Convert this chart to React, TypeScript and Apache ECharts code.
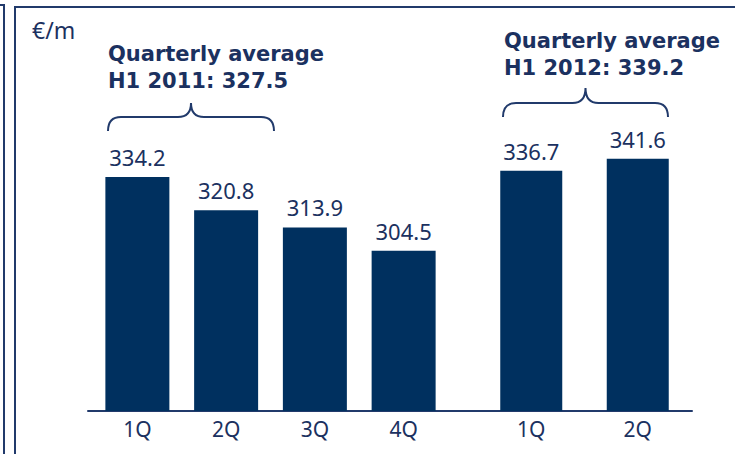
import React, { useEffect, useRef } from "react";
import * as echarts from "echarts";

const cats2011 = ["1Q", "2Q", "3Q", "4Q"];
const vals2011 = [334.2, 320.8, 313.9, 304.5];
const cats2012 = ["1Q", "2Q"];
const vals2012 = [336.7, 341.6];
const unitLabel = "€/m";
const avg2011 = ["Quarterly average", "H1 2011: 327.5"];
const avg2012 = ["Quarterly average", "H1 2012: 339.2"];

const NAVY = "#00305f";
const TEXT = "#1b3160";
const LINE = "#213a6b";
const FONT = "'Noto Sans', 'Open Sans', sans-serif";
const TITLE_FONT = "'DejaVu Sans', Verdana, sans-serif";

function bracePath(x0: number, x1: number, tipY: number, armY: number, endY: number) {
  const mid = (x0 + x1) / 2;
  const r = 13;
  return `M${x0},${endY} Q${x0},${armY} ${x0 + r},${armY} L${mid - r},${armY} Q${mid},${armY} ${mid},${tipY} Q${mid},${armY} ${mid + r},${armY} L${x1 - r},${armY} Q${x1},${armY} ${x1},${endY}`;
}

echarts.graphic.registerShape("brace1", echarts.graphic.extendPath(bracePath(108, 274, 103, 117, 131), {}));
echarts.graphic.registerShape("brace2", echarts.graphic.extendPath(bracePath(503, 668, 88, 103, 117), {}));

export default function App() {
  const ref = useRef<HTMLDivElement>(null);
  useEffect(() => {
    document.body.style.margin = "0";
    const chart = echarts.init(ref.current!, null, { renderer: "svg" });
    const labelCfg = {
      show: true,
      position: "top" as const,
      distance: 9,
      color: TEXT,
      fontSize: 22,
      fontFamily: FONT,
      formatter: (p: any) => p.value.toFixed(1),
    };
    const axisLabelCfg = { color: TEXT, fontSize: 21, fontFamily: FONT, margin: 7 };
    const yCfg = { type: "value" as const, min: 240, max: 360, show: false, splitLine: { show: false } };
    const txt = (x: number, y: number, text: string, font: string, lh: number) => ({
      type: "text",
      x,
      y,
      style: { text, fill: TEXT, font, lineHeight: lh, verticalAlign: "top", align: "left" },
    });
    chart.setOption({
      animation: false,
      backgroundColor: "#ffffff",
      grid: [
        { left: 93, right: 735 - 448, top: 113, bottom: 43 },
        { left: 478, right: 735 - 691, top: 113, bottom: 43 },
        { left: 88, right: 735 - 692, top: 113, bottom: 43 },
      ],
      xAxis: [
        { type: "category", gridIndex: 0, data: cats2011, axisLine: { show: false }, axisTick: { show: false }, axisLabel: axisLabelCfg },
        { type: "category", gridIndex: 1, data: cats2012, axisLine: { show: false }, axisTick: { show: false }, axisLabel: axisLabelCfg },
        { type: "category", gridIndex: 2, data: [""], axisLine: { show: true, lineStyle: { color: LINE, width: 2 } }, axisTick: { show: false }, axisLabel: { show: false } },
      ],
      yAxis: [
        { ...yCfg, gridIndex: 0 },
        { ...yCfg, gridIndex: 1 },
        { ...yCfg, gridIndex: 2 },
      ],
      series: [
        { type: "bar", xAxisIndex: 0, yAxisIndex: 0, data: vals2011, barWidth: 64, itemStyle: { color: NAVY }, label: labelCfg },
        { type: "bar", xAxisIndex: 1, yAxisIndex: 1, data: vals2012, barWidth: 62, itemStyle: { color: NAVY }, label: labelCfg },
      ],
      graphic: [
        { type: "polyline", shape: { points: [[0, 5], [4, 5], [4, 454]] }, style: { stroke: LINE, lineWidth: 2, fill: null } },
        { type: "polyline", shape: { points: [[15, 454], [15, 7], [735, 7]] }, style: { stroke: LINE, lineWidth: 2, fill: null } },
        txt(32, 18, unitLabel, `23px ${FONT}`, 23),
        txt(108, 40, avg2011.join("\n"), `bold 21px ${TITLE_FONT}`, 27),
        txt(504, 27, avg2012.join("\n"), `bold 21px ${TITLE_FONT}`, 27),
        { type: "brace1", style: { stroke: LINE, lineWidth: 2, fill: null } },
        { type: "brace2", style: { stroke: LINE, lineWidth: 2, fill: null } },
      ],
    });
    return () => chart.dispose();
  }, []);
  return <div ref={ref} style={{ width: 735, height: 454 }} />;
}
